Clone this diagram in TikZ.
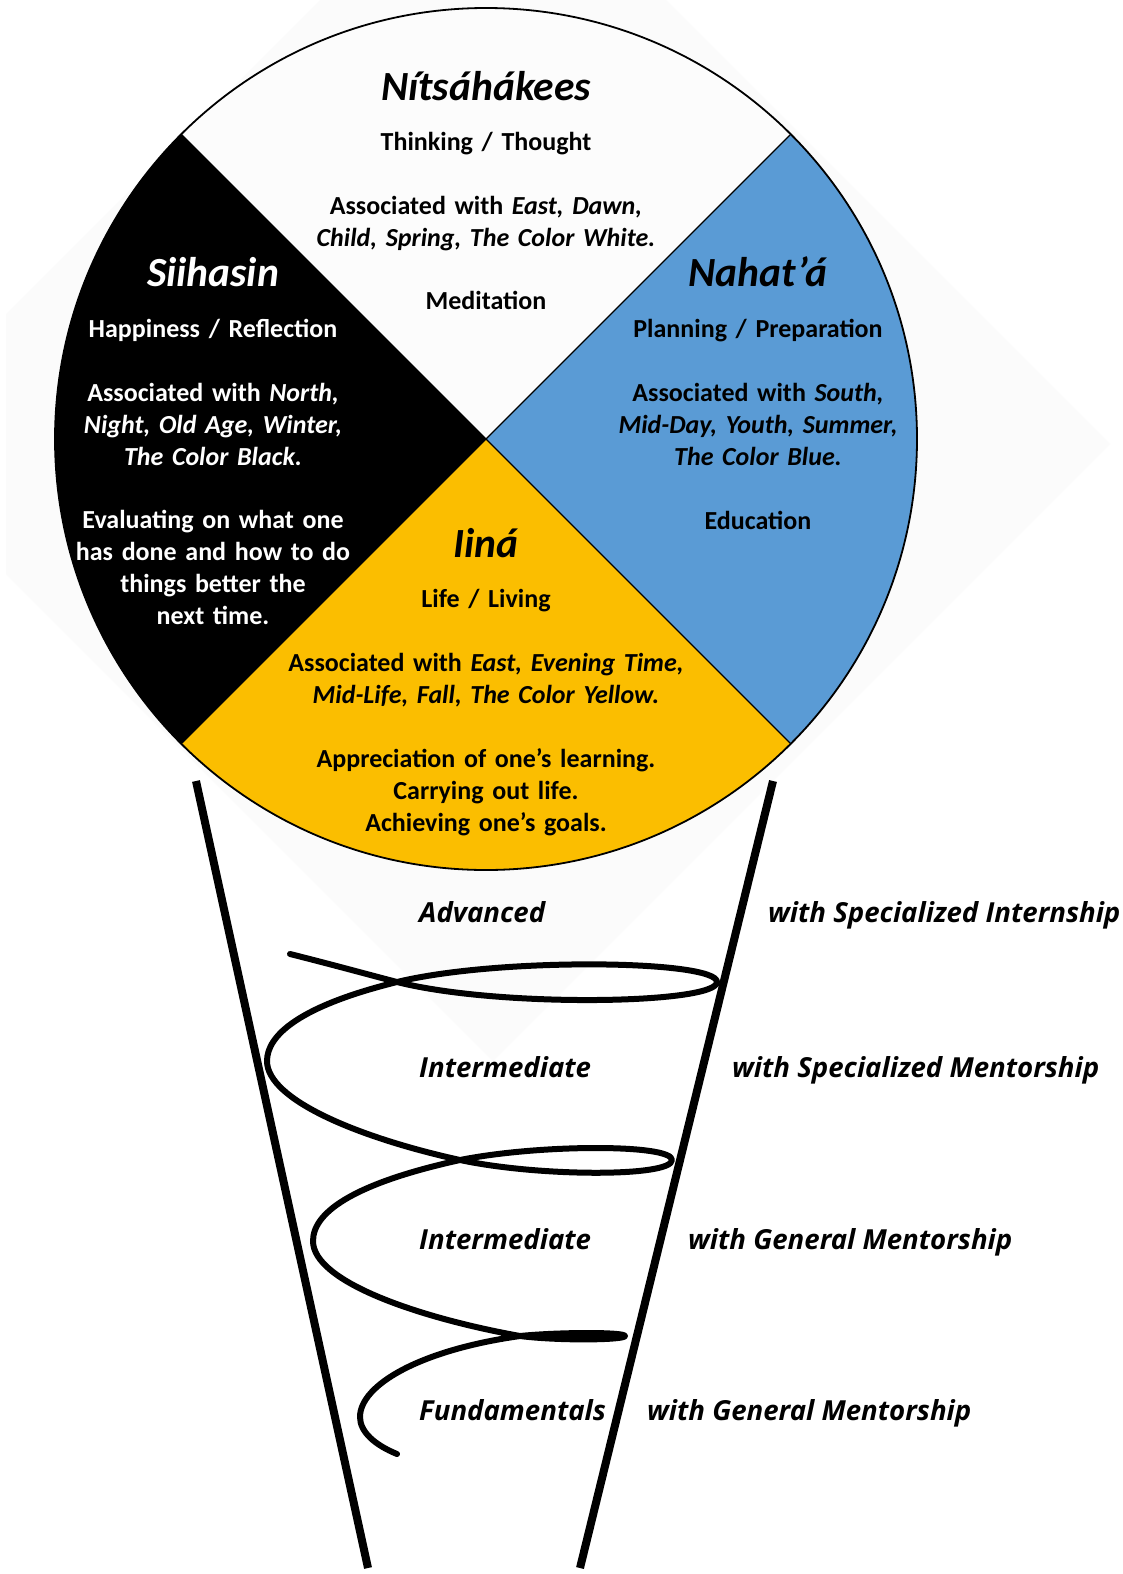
\documentclass[tikz,border=0pt]{standalone}
\usepackage{fontspec}
\setmainfont{Carlito}
\newfontfamily\osans{Open Sans}
\definecolor{qblue}{HTML}{5A9BD5}
\definecolor{qyellow}{HTML}{FBBE00}
\definecolor{faintgray}{HTML}{FBFBFB}
\begin{document}
\frenchspacing
\begin{tikzpicture}[x=1pt,y=-1pt,
  ttl/.style={font=\fontsize{41.5}{48}\selectfont\bfseries\itshape, anchor=base, inner sep=0pt},
  body/.style={font=\fontsize{26}{32}\selectfont\bfseries, align=center, text width=440pt, anchor=base, inner sep=0pt},
  lvl/.style={font=\osans\fontsize{27.6}{32}\selectfont\bfseries\itshape, anchor=base west, inner sep=0pt},
  funnel/.style={line width=8pt},
  coil/.style={line cap=round, line join=round, line width=6pt, black}]
\useasboundingbox (0,0) rectangle (1123,1574);
\fill[white] (0,0) rectangle (1123,1574);
% faint shadow behind the wheel
\begin{scope}
  \clip (6,0) rectangle (1123,1574);
  \fill[faintgray] (1110,444) -- (493,-173) -- (-124,444) -- (493,1061) -- cycle;
\end{scope}
\coordinate (c) at (486,439);
% quadrants
\begin{scope}
  \clip (c) circle[radius=431];
  \fill[white!99!black] (c) -- ++(-700,-700) -- ++(1400,0) -- cycle;
  \fill[black] (c) -- ++(-700,-700) -- ++(0,1400) -- cycle;
  \fill[qblue] (c) -- ++(700,-700) -- ++(0,1400) -- cycle;
  \fill[qyellow] (c) -- ++(-700,700) -- ++(1400,0) -- cycle;
\end{scope}
\draw[line width=1.8pt] (c) circle[radius=431];
\path (c) ++(135:431) coordinate (bl) (c) ++(225:431) coordinate (tl)
  (c) ++(315:431) coordinate (tr) (c) ++(45:431) coordinate (br);
\draw[line width=1.3pt] (tl) -- (br) (tr) -- (bl);
% top quadrant
\node[ttl] (n1) at (486,100) {Nítsáhákees};
\node[body] (n1a) at (486,150) {Thinking / Thought};
\node[body] (n1b) at (486,214) {Associated with \textit{East, Dawn,}\\\textit{Child, Spring, The Color White.}};
\node[body] (n1c) at (486,309) {Meditation};
% left quadrant
\node[ttl, white] (n2) at (213,286) {Siihasin};
\node[body, white] (n2a) at (213,337) {Happiness / Reflection};
\node[body, white] (n2b) at (213,401) {Associated with \textit{North,}\\\textit{Night, Old Age, Winter,}\\\textit{The Color Black.}};
\node[body, white] (n2c) at (213,528) {Evaluating on what one\\has done and how to do\\things better the\\next time.};
% right quadrant
\node[ttl] (n3) at (758,286) {Nahat’á};
\node[body] (n3a) at (758,337) {Planning / Preparation};
\node[body] (n3b) at (758,401) {Associated with \textit{South,}\\\textit{Mid-Day, Youth, Summer,}\\\textit{The Color Blue.}};
\node[body] (n3c) at (758,529) {Education};
% bottom quadrant
\node[ttl] (n4) at (486,557) {Iiná};
\node[body] (n4a) at (486,607) {Life / Living};
\node[body] (n4b) at (486,671) {Associated with \textit{East, Evening Time,}\\\textit{Mid-Life, Fall, The Color Yellow.}};
\node[body] (n4c) at (486,767) {Appreciation of one’s learning.\\Carrying out life.\\Achieving one’s goals.};
% funnel
\coordinate (fl1) at (196,781); \coordinate (fl2) at (368,1568);
\coordinate (fr1) at (773,781); \coordinate (fr2) at (580,1568);
\draw[funnel] (fl1) -- (fl2);
\draw[funnel] (fr1) -- (fr2);
% coil
\draw[coil] (290,954) .. controls (330,964) and (370,975) .. (397,982)
  .. controls (500,1008) and (717,1004) .. (717,982)
  .. controls (717,960) and (500,957) .. (397,982)
  .. controls (300,1006) and (267,1035) .. (267,1061)
  .. controls (267,1100) and (360,1138) .. (460,1160)
  .. controls (540,1177) and (672,1177) .. (672,1160)
  .. controls (672,1144) and (540,1144) .. (460,1160)
  .. controls (360,1182) and (313,1210) .. (313,1241)
  .. controls (313,1282) and (420,1318) .. (520,1336)
  .. controls (560,1341) and (625,1340) .. (625,1336)
  .. controls (625,1332) and (560,1332) .. (520,1336)
  .. controls (420,1350) and (360,1385) .. (360,1417)
  .. controls (360,1432) and (375,1445) .. (397,1454);
% levels
\node[lvl] (l1) at (419,922) {Advanced};
\node[lvl] (l2) at (419,1077) {Intermediate};
\node[lvl] (l3) at (419,1249) {Intermediate};
\node[lvl] (l4) at (419,1420) {Fundamentals};
\node[lvl] (r1) at (768,922) {with Specialized Internship};
\node[lvl] (r2) at (732,1077) {with Specialized Mentorship};
\node[lvl] (r3) at (688,1249) {with General Mentorship};
\node[lvl] (r4) at (647,1420) {with General Mentorship};
\end{tikzpicture}
\end{document}
